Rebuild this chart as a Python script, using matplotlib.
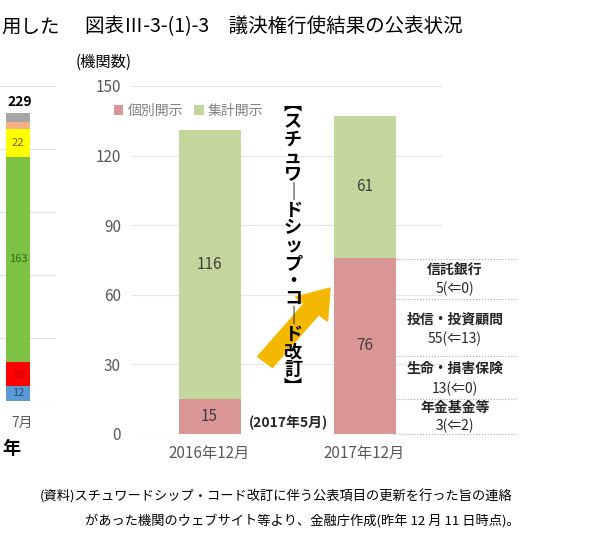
import matplotlib
matplotlib.use("Agg")
import matplotlib.pyplot as plt
from matplotlib.patches import FancyArrow

plt.rcParams['font.family'] = ['Noto Sans CJK JP', 'DejaVu Sans']

categories = ["2016年12月", "2017年12月"]
individual = [15, 76]
aggregate = [116, 61]
yticks = [0, 30, 60, 90, 120, 150]

left_vals = [12, 19, 163, 22, 6, 7]
left_colors = ["#5B9BD5", "#FF0000", "#7DC243", "#FFFF00", "#F4B183", "#A6A6A6"]
left_total = 229

breakdown = [("信託銀行", "5(⇐0)"), ("投信・投資顧問", "55(⇐13)"),
             ("生命・損害保険", "13(⇐0)"), ("年金基金等", "3(⇐2)")]

W, H = 593, 544
fig = plt.figure(figsize=(W/100, H/100), dpi=100)
def fx(px): return px / W
def fy(py): return 1 - py / H

# left partial chart
axl = fig.add_axes([fx(-16), fy(401), fx(72), fy(86.5) - fy(401)])
axl.set_xlim(0, 1); axl.set_ylim(0, 250)
b = 0
for v, c in zip(left_vals, left_colors):
    axl.bar(0.47, v, 0.34, bottom=b, color=c)
    b += v
axl.text(0.5, left_total + 3, str(left_total), ha='center', va='bottom', fontsize=10, fontweight='bold')
axl.text(0.47, 12 + 19 + 163 / 2, "163", ha='center', va='center', fontsize=8, color='#2E6B1A')
axl.text(0.47, 12 + 19 + 163 + 11, "22", ha='center', va='center', fontsize=8, color='#7F6000')
axl.text(0.47, 6, "12", ha='center', va='center', fontsize=8, color='#1F4E79')
axl.text(0.47, 21, "19", ha='center', va='center', fontsize=8, color='#C00000')
for g in range(0, 251, 50):
    axl.axhline(g, color='#E0E0E0', lw=0.8, zorder=0)
axl.axis('off')
fig.text(fx(22), fy(423), "7月", ha='center', va='center', fontsize=10, color='#595959')
fig.text(fx(2), fy(449), "年", ha='left', va='center', fontsize=13, fontweight='bold')
fig.text(fx(1), fy(27), "用した", ha='left', va='center', fontsize=14)

# main chart
ax = fig.add_axes([fx(132), fy(434), fx(442) - fx(132), fy(86) - fy(434)])
x = [0, 1]
ax.bar(x, individual, 0.4, color="#DA9694", label="個別開示", zorder=2)
ax.bar(x, aggregate, 0.4, bottom=individual, color="#C3D69B", label="集計開示", zorder=2)
for i in x:
    ax.text(i, individual[i] / 2, str(individual[i]), ha='center', va='center', fontsize=11, color='#404040')
    ax.text(i, individual[i] + aggregate[i] / 2, str(aggregate[i]), ha='center', va='center', fontsize=11, color='#404040')
ax.set_xlim(-0.5, 1.5); ax.set_ylim(0, 150)
ax.set_yticks(yticks)
ax.set_xticks(x, categories)
ax.tick_params(length=0, labelsize=11, colors='#595959', pad=8)
ax.grid(axis='y', color='#E6E6E6', lw=0.8, zorder=0)
for s in ax.spines.values(): s.set_visible(False)
ax.axhline(0, color='#D9D9D9', lw=0.8)
ax.legend(loc='upper left', bbox_to_anchor=(-0.1, 0.985), ncol=2, frameon=False,
          fontsize=10, labelcolor='#808080', handlelength=0.7, handleheight=0.7,
          handletextpad=0.3, columnspacing=0.8)

# breakdown annotations
ys_lines = [259, 299, 356, 399, 434]
for yy in ys_lines:
    fig.add_artist(plt.Line2D([fx(393), fx(517)], [fy(yy), fy(yy)], color='#A6A6A6', lw=0.8, ls=':'))
for (a, bb), (y1, y2) in zip(breakdown, [(270, 289), (320, 339), (369, 389), (408, 426)]):
    fig.text(fx(455), fy(y1), a, ha='center', va='center', fontsize=10, fontweight='bold', color='#262626')
    fig.text(fx(455), fy(y2), bb, ha='center', va='center', fontsize=10, color='#262626')

# arrow
fig.add_artist(FancyArrow(fx(265), fy(362), fx(330) - fx(265), fy(288) - fy(362), width=0.032,
                          head_width=0.07, head_length=0.05, length_includes_head=True,
                          color='#F5B800', transform=fig.transFigure))

# vertical text
chars = "【スチュワードシップ・コード改訂】"
vert = {"【": "︻", "】": "︼", "ー": "｜", "・": "・"}
y0, step = 104, 17.7
for k, ch in enumerate(chars):
    fig.text(fx(293), fy(y0 + k * step), vert.get(ch, ch), ha='center', va='center', fontsize=13,
             fontweight='bold')
fig.text(fx(288), fy(423), "(2017年5月)", ha='center', va='center', fontsize=10, fontweight='bold', color='#262626')

# titles
fig.text(fx(85), fy(27), "図表Ⅲ-3-(1)-3　議決権行使結果の公表状況", ha='left', va='center', fontsize=14)
fig.text(fx(76), fy(62), "(機関数)", ha='left', va='center', fontsize=11)
fig.text(fx(40), fy(496), "(資料)スチュワードシップ・コード改訂に伴う公表項目の更新を行った旨の連絡", ha='left', va='center', fontsize=9.5)
fig.text(fx(85), fy(521), "があった機関のウェブサイト等より、金融庁作成(昨年 12 月 11 日時点)。", ha='left', va='center', fontsize=9.5)

fig.savefig("out.png", dpi=100)
